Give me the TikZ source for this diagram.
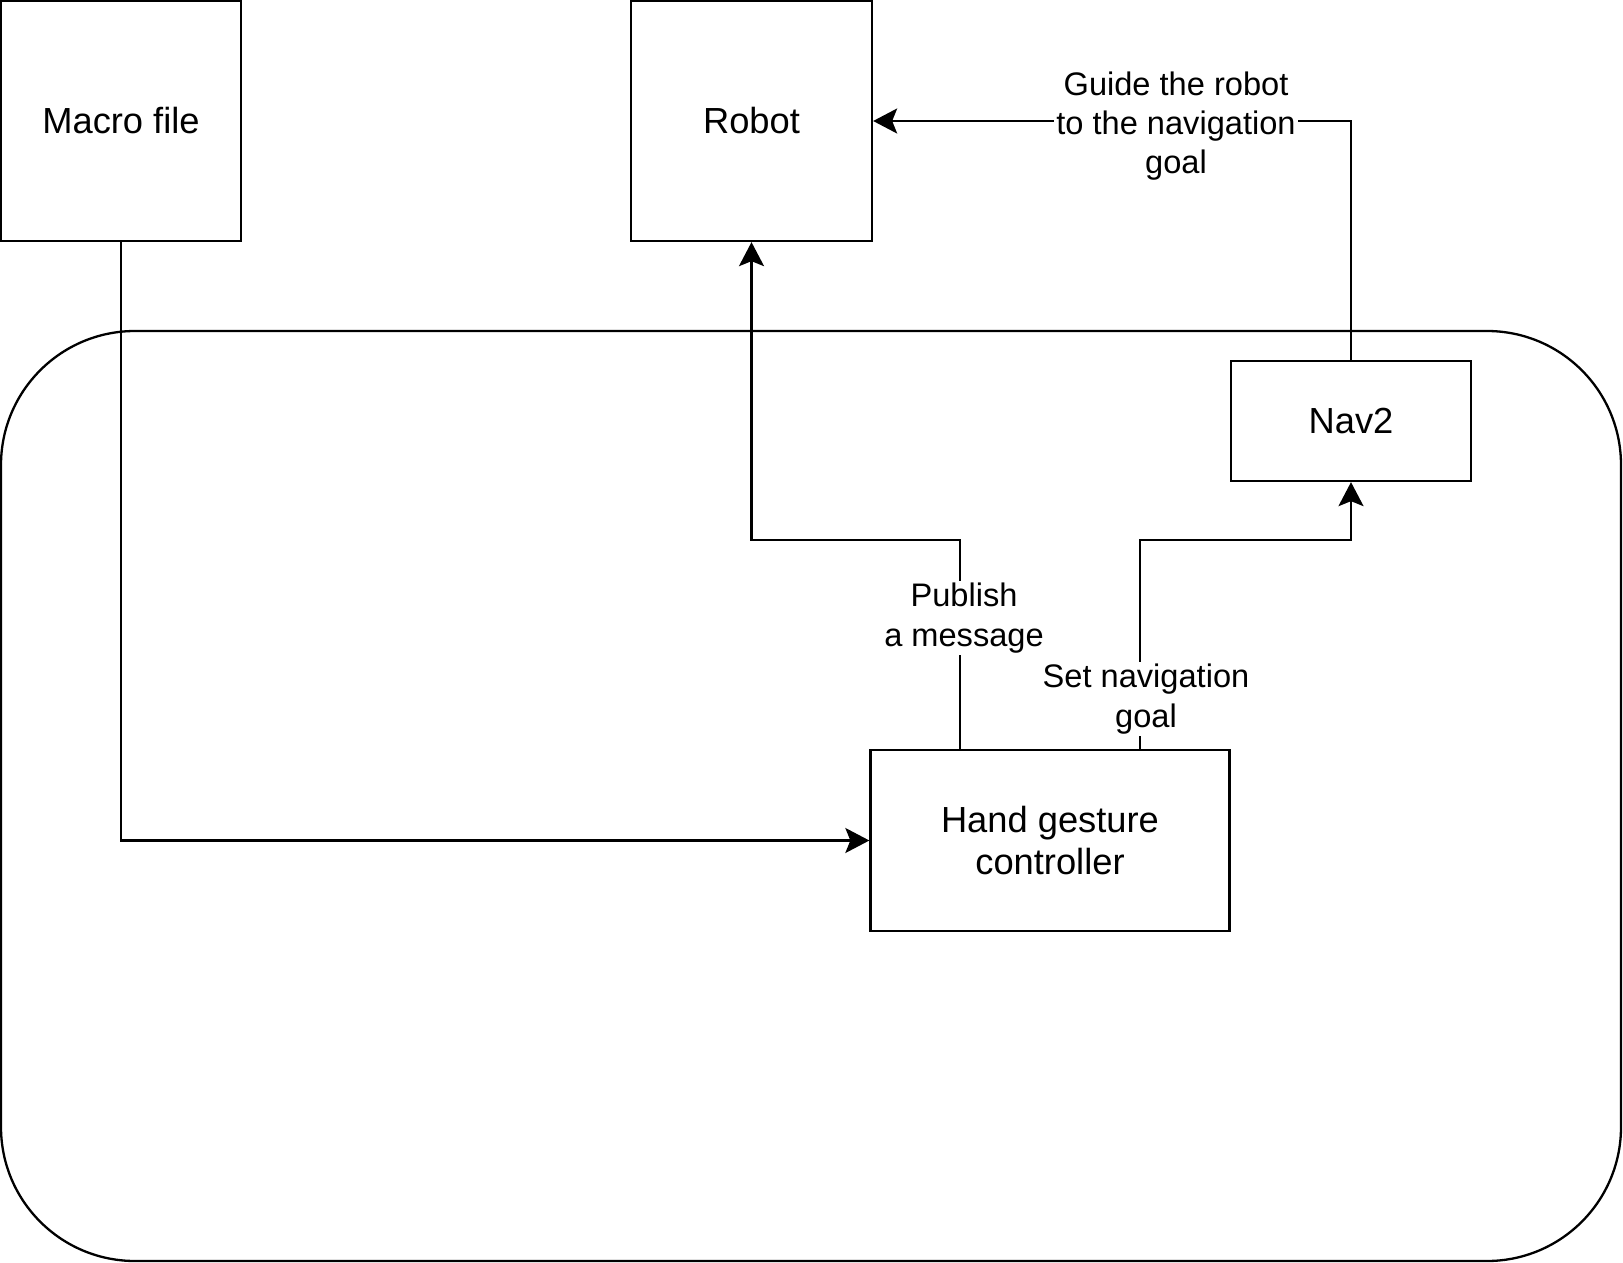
\documentclass[tikz,border=0pt]{standalone}
\usepackage{fontspec}
\setmainfont{Liberation Sans}
\usetikzlibrary{arrows.meta,calc}
\begin{document}
\begin{tikzpicture}[x=0.5pt,y=-0.5pt,
  box/.style={draw,line width=1.15pt,rectangle,inner sep=0pt,align=center,font=\fontsize{18.15}{21.2}\selectfont},
  lbl/.style={fill=white,inner sep=1pt,align=center,font=\fontsize{16.3}{19.7}\selectfont},
  arr/.style={line width=1.15pt,-{Stealth[length=12pt,width=12.5pt,inset=2.5pt]}}]
\useasboundingbox (0,0) rectangle (1623,1263);
\draw[line width=1.15pt,rounded corners=67pt] (1,331) rectangle (1621,1261);
\node[box,minimum width=120pt,minimum height=120pt] (macro) at (121,121) {Macro file};
\node[box,minimum width=120.5pt,minimum height=120pt] (robot) at (751.5,121) {Robot};
\node[box,minimum width=120pt,minimum height=60pt] (nav) at (1351,421) {Nav2};
\node[box,minimum width=179.5pt,minimum height=90.5pt] (hand) at (1050,840.5) {Hand gesture\\controller};
\coordinate (mid) at (0,540);
\coordinate (h1) at ($(hand.north west)!0.25!(hand.north east)$);
\coordinate (h2) at ($(hand.north west)!0.75!(hand.north east)$);
\draw[arr] (macro.south) |- (hand.west);
\draw[arr] (h1) -- (h1 |- mid) -| (robot.south);
\draw[arr] (h2) -- (h2 |- mid) -| (nav.south);
\draw[arr] (nav.north) |- (robot.east);
\node[lbl] (l1) at (964,618) {Publish\\a message};
\node[lbl] (l2) at (1146,699) {Set navigation\\goal};
\node[lbl] (l3) at (1176,126) {Guide the robot\\to the navigation\\goal};
\end{tikzpicture}
\end{document}
